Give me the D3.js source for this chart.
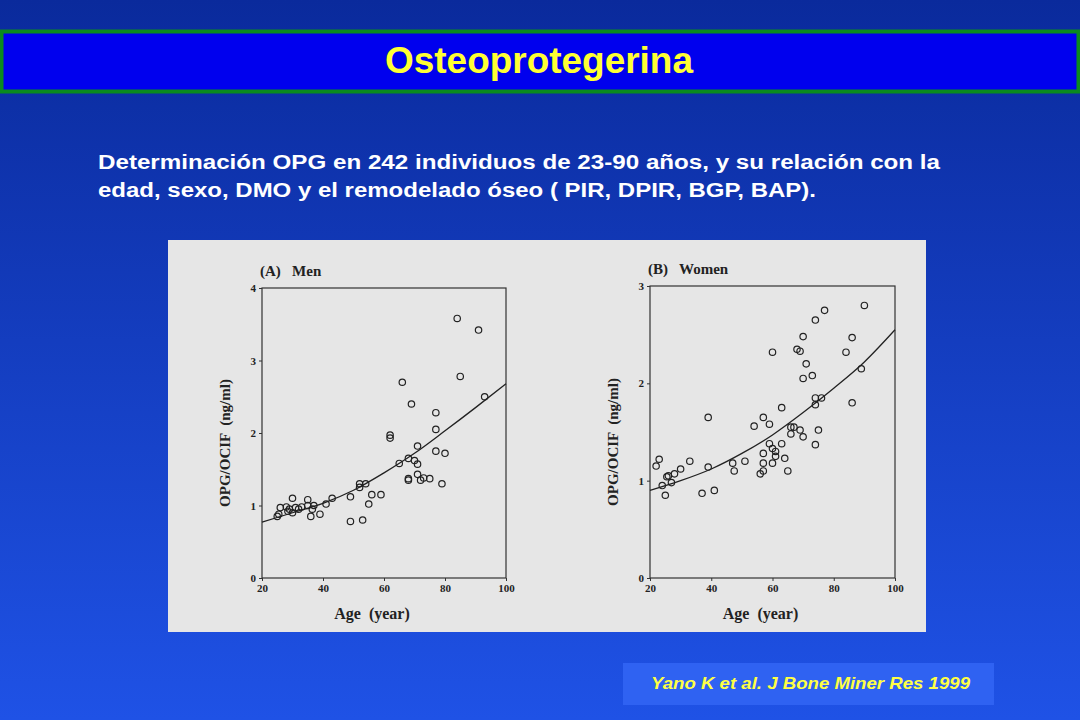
<!DOCTYPE html>
<html><head><meta charset="utf-8">
<script src="https://cdn.jsdelivr.net/npm/d3@7"></script>
<style>body{margin:0;}svg{display:block;}</style>
</head><body>
<script>
const titleText = "Osteoprotegerina";
const subtitleLines = ["Determinación OPG en 242 individuos de 23-90 años, y su relación con la","edad, sexo, DMO y el remodelado óseo ( PIR, DPIR, BGP, BAP)."];
const citation = "Yano K et al. J Bone Miner Res 1999";
const xTicks = [20,40,60,80,100];
const menYTicks = [0,1,2,3,4];
const womenYTicks = [0,1,2,3];
const menPoints = [[25,0.85],[25.5,0.88],[26,0.97],[28,0.98],[28.5,0.92],[29,0.95],[30,1.1],[30,0.9],[31,0.97],[32,0.95],[33,0.98],[35,1.08],[35,1.0],[36,0.85],[36.5,0.95],[37,1.0],[39,0.88],[41,1.02],[43,1.1],[49,1.12],[49,0.78],[52,1.3],[52,1.25],[53,0.8],[54,1.3],[55,1.02],[56,1.15],[59,1.15],[62,1.97],[62,1.93],[65,1.58],[66,2.7],[68,1.65],[68,1.35],[68,1.37],[69,2.4],[70,1.62],[71,1.57],[71,1.82],[71,1.43],[72,1.35],[73,1.38],[75,1.37],[77,2.28],[77,2.05],[77,1.75],[79,1.3],[80,1.72],[84,3.58],[85,2.78],[91,3.42],[93,2.5]];
const menCurve = [[20,0.77],[30,0.9],[40,1.03],[50,1.21],[60,1.45],[70,1.72],[80,2.03],[90,2.35],[100,2.68]];
const womenPoints = [[22,1.15],[23,1.22],[24,0.95],[25,0.85],[25.5,1.04],[26,1.05],[27,0.98],[28,1.07],[30,1.12],[33,1.2],[37,0.87],[39,1.65],[39,1.14],[41,0.9],[47,1.18],[47.5,1.1],[51,1.2],[54,1.56],[56,1.07],[57,1.65],[57,1.28],[57,1.18],[57,1.1],[59,1.58],[59,1.38],[60,1.33],[60,2.32],[60,1.18],[61,1.3],[61,1.25],[63,1.75],[63,1.38],[64,1.23],[65,1.1],[66,1.55],[66,1.48],[67,1.55],[68,2.35],[69,2.33],[69,1.52],[70,1.45],[70,2.48],[70,2.05],[71,2.2],[73,2.08],[74,2.65],[74,1.85],[74,1.78],[74,1.37],[75,1.52],[76,1.85],[77,2.75],[84,2.32],[86,2.47],[86,1.8],[89,2.15],[90,2.8]];
const womenCurve = [[20,0.9],[30,1.0],[40,1.12],[50,1.28],[60,1.47],[70,1.7],[80,1.95],[90,2.22],[100,2.55]];

const svg = d3.select("body").append("svg").attr("width",1080).attr("height",720);
const defs = svg.append("defs");
const g = defs.append("linearGradient").attr("id","bg").attr("x1",0).attr("y1",0).attr("x2",0).attr("y2",1);
g.append("stop").attr("offset","0%").attr("stop-color","#0a2a9c");
g.append("stop").attr("offset","100%").attr("stop-color","#1f52e6");
svg.append("rect").attr("width",1080).attr("height",720).attr("fill","url(#bg)");
svg.append("rect").attr("x",1.5).attr("y",31.5).attr("width",1077).attr("height",60).attr("fill","#0000ee").attr("stroke","#0a8a20").attr("stroke-width",4);
svg.append("text").attr("x",539).attr("y",73).attr("text-anchor","middle").attr("fill","#ffff33")
  .attr("font-family","Liberation Sans, Arial").attr("font-weight","bold").attr("font-size",37)
  .attr("textLength",308).attr("lengthAdjust","spacingAndGlyphs").text(titleText);
const subW = [842,718];
subtitleLines.forEach((t,i)=>svg.append("text").attr("x",98).attr("y",169+i*28).attr("fill","#fff")
  .attr("font-family","Liberation Sans, Arial").attr("font-weight","bold").attr("font-size",20)
  .attr("textLength",subW[i]).attr("lengthAdjust","spacingAndGlyphs").text(t));
svg.append("rect").attr("x",168).attr("y",240).attr("width",758).attr("height",392).attr("fill","#e6e6e6");
svg.append("rect").attr("x",623).attr("y",663).attr("width",371).attr("height",42).attr("fill","#2f62f2");
svg.append("text").attr("x",651).attr("y",689).attr("fill","#ffff44")
  .attr("font-family","Liberation Sans, Arial").attr("font-weight","bold").attr("font-style","italic").attr("font-size",17)
  .attr("textLength",319).attr("lengthAdjust","spacingAndGlyphs").text(citation);

function panel(x0,x1,yTop,yBot,ymax,yTicks,pts,curve,label){
  const x = d3.scaleLinear().domain([20,100]).range([x0,x1]);
  const y = d3.scaleLinear().domain([0,ymax]).range([yBot,yTop]);
  const p = svg.append("g").attr("font-family","Liberation Serif, serif").attr("font-weight","bold").attr("fill","#222");
  p.append("rect").attr("x",x0).attr("y",yTop).attr("width",x1-x0).attr("height",yBot-yTop).attr("fill","none").attr("stroke","#333").attr("stroke-width",1.2);
  const xa = p.append("g").attr("transform",`translate(0,${yBot})`).call(d3.axisBottom(x).tickValues(xTicks).tickSize(3).tickFormat(d3.format("d")));
  const ya = p.append("g").attr("transform",`translate(${x0},0)`).call(d3.axisLeft(y).tickValues(yTicks).tickSize(3).tickFormat(d3.format("d")));
  [xa,ya].forEach(a=>{a.select(".domain").remove();a.selectAll("line").attr("stroke","#333");a.selectAll("text").attr("font-family","Liberation Serif, serif").attr("font-weight","bold").attr("font-size",11).attr("fill","#222");});
  p.append("path").datum(curve).attr("fill","none").attr("stroke","#222").attr("stroke-width",1.3)
    .attr("d",d3.line().x(d=>x(d[0])).y(d=>y(d[1])).curve(d3.curveMonotoneX));
  p.selectAll("circle").data(pts).join("circle").attr("cx",d=>x(d[0])).attr("cy",d=>y(d[1])).attr("r",3.2)
    .attr("fill","none").attr("stroke","#222").attr("stroke-width",1.2);
  p.append("text").attr("x",x0-2).attr("y",yTop-12).attr("font-size",15).attr("fill","#222").attr("xml:space","preserve").text(label);
  p.append("text").attr("x",(x0+x1)/2-12).attr("y",yBot+41).attr("text-anchor","middle").attr("font-size",16).attr("fill","#222").attr("xml:space","preserve").text("Age  (year)");
  p.append("text").attr("transform",`translate(${x0-32},${(yTop+yBot)/2+10}) rotate(-90)`).attr("text-anchor","middle").attr("font-size",15).attr("fill","#222").attr("xml:space","preserve").text("OPG/OCIF  (ng/ml)");
}
panel(262,506,288,578,4,menYTicks,menPoints,menCurve,"(A)   Men");
panel(650,895,286,578,3,womenYTicks,womenPoints,womenCurve,"(B)   Women");
</script>
</body></html>
